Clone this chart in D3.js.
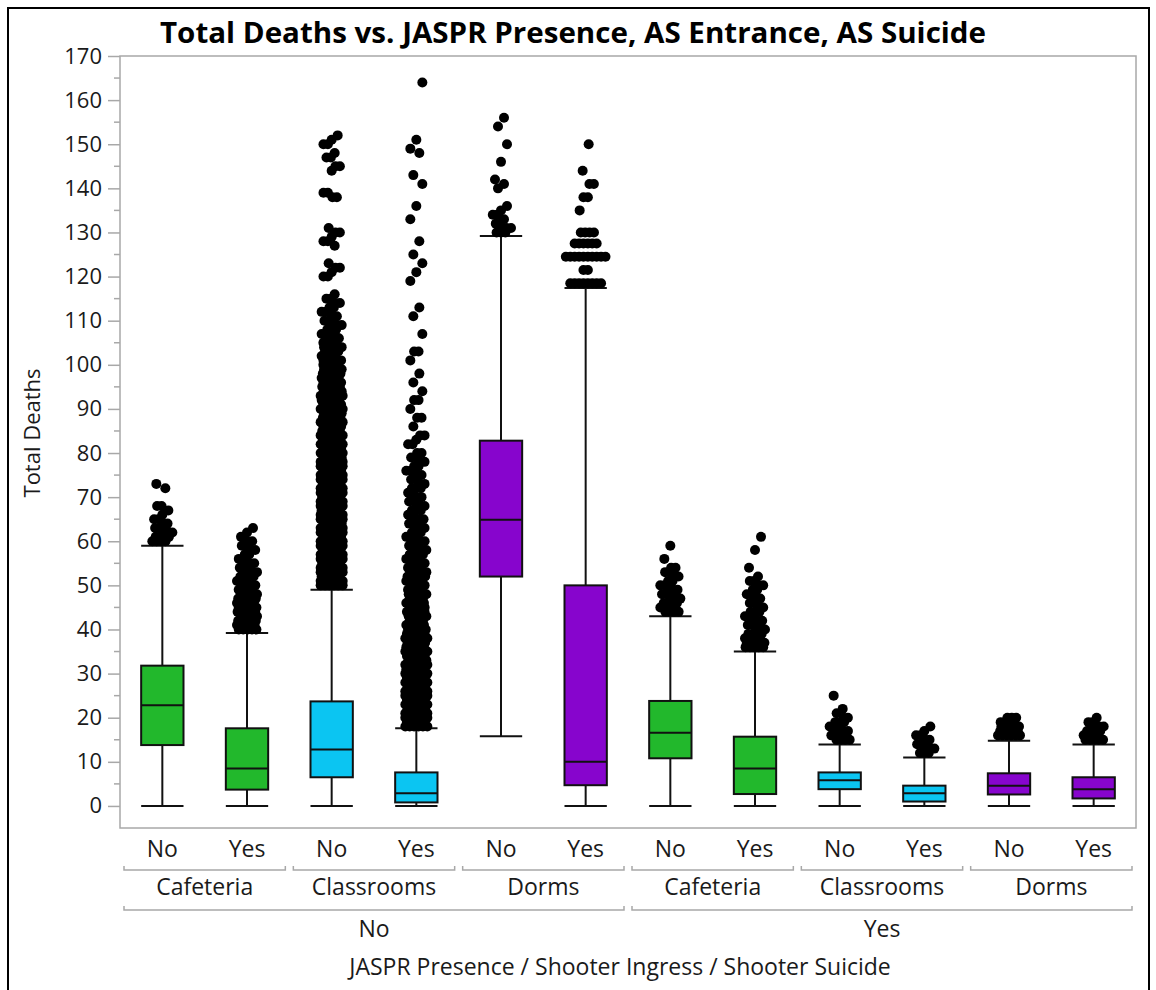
<!DOCTYPE html>
<html>
<head>
<meta charset="utf-8">
<script src="https://cdn.jsdelivr.net/npm/d3@7"></script>
<style>
  body { margin: 0; background: #fff; }
  svg text { font-family: "Open Sans", "Noto Sans", sans-serif; fill: #1a1a1a; }
</style>
</head>
<body>
<div class="chart"></div>
<script>
// factor levels
var jasprLevels = ["No", "Yes"];
var ingressLevels = ["Cafeteria", "Classrooms", "Dorms"];
var suicideLevels = ["No", "Yes"];
var ingressColors = {Cafeteria: "#22b82c", Classrooms: "#0bc5f2", Dorms: "#8705cd"};

// box stats, in group order (JASPR / Ingress / Suicide)
var whiskerLow  = [0, 0, 0, 0, 15.8, 0, 0, 0, 0, 0, 0, 0];
var q1          = [13.8, 3.7, 6.5, 0.8, 52, 4.7, 10.8, 2.7, 3.8, 1, 2.6, 1.7];
var median      = [22.8, 8.5, 12.8, 2.9, 64.9, 10, 16.6, 8.5, 5.8, 2.9, 4.6, 3.8];
var q3          = [31.8, 17.6, 23.7, 7.6, 82.8, 50, 23.8, 15.7, 7.6, 4.6, 7.4, 6.5];
var whiskerHigh = [59, 39.2, 49, 17.6, 129.2, 117.4, 43, 35, 13.9, 11, 14.8, 13.9];

// outliers as [value, count]
var outNoCafNo = [[60,4],[61,4],[62,3],[63,3],[64,2],[65,2],[66,1],[67,1],[68,2],[72,1],[73,1]];
var outNoCafYes = [[40,5],[41,5],[42,5],[43,4],[44,5],[45,5],[46,4],[47,5],[48,4],[49,4],[50,4],[51,3],
  [52,4],[53,3],[54,3],[55,3],[56,2],[57,2],[58,2],[59,2],[60,2],[61,1],[62,1],[63,1]];
var outNoClassNo = [[50,6],[51,6],[52,5],[53,6],[54,6],[55,5],[56,6],[57,6],[58,5],[59,6],[60,6],
  [61,5],[62,6],[63,6],[64,5],[65,6],[66,6],[67,5],[68,6],[69,6],[70,5],[71,6],[72,6],[73,5],
  [74,6],[75,6],[76,5],[77,6],[78,6],[79,5],[80,6],[81,5],[82,6],[83,5],[84,6],[85,5],[86,5],
  [87,6],[88,5],[89,5],[90,6],[91,5],[92,5],[93,6],[94,5],[95,5],[96,5],[97,4],[98,5],[99,5],
  [100,4],[101,5],[102,4],[103,4],[104,5],[105,4],[106,3],[107,4],[108,3],[109,3],[110,3],
  [111,2],[112,3],[113,2],[114,2],[115,2],[116,1],[120,2],[121,1],[122,2],[123,1],[127,1],
  [128,2],[129,1],[130,2],[131,1],[138,2],[139,2],[144,1],[145,2],[147,2],[148,1],[150,2],
  [151,1],[152,1]];
var outNoClassYes = [[18,6],[19,5],[20,6],[21,6],[22,5],[23,6],[24,5],[25,6],[26,6],[27,5],[28,6],
  [29,5],[30,6],[31,5],[32,6],[33,5],[34,5],[35,6],[36,5],[37,5],[38,6],[39,5],[40,5],[41,5],
  [42,4],[43,5],[44,5],[45,4],[46,5],[47,4],[48,5],[49,4],[50,4],[51,4],[52,5],[53,3],[54,4],
  [55,4],[56,3],[57,4],[58,3],[59,3],[60,4],[61,3],[62,3],[63,2],[64,3],[65,3],[66,2],[67,3],
  [68,2],[69,3],[70,2],[71,2],[72,3],[73,2],[74,2],[75,2],[76,3],[77,2],[78,2],[79,2],[80,2],
  [82,2],[83,1],[84,2],[86,1],[88,2],[90,1],[92,2],[94,1],[96,1],[98,1],[101,1],[103,2],
  [107,1],[111,1],[113,1],[119,1],[121,1],[123,1],[125,1],[128,1],[133,1],[136,1],[141,1],
  [143,1],[148,1],[149,1],[151,1],[164,1]];
var outNoDormNo = [[130,3],[131,3],[132,2],[133,1],[134,2],[135,1],[136,1],[140,1],[141,1],
  [142,1],[146,1],[150,1],[154,1],[156,1]];
var outNoDormYes = [[118.5,8],[121.5,2],[124.5,10],[127.5,6],[130,4],[135,1],[138,2],[141,2],
  [144,1],[150,1]];
var outYesCafNo = [[44,4],[45,4],[46,4],[47,3],[48,4],[49,3],[50,3],[51,2],[52,2],[53,2],[54,2],
  [56,1],[59,1]];
var outYesCafYes = [[36,5],[37,5],[38,4],[39,4],[40,3],[41,3],[42,3],[43,3],[44,3],[45,2],[46,2],
  [47,2],[48,2],[49,2],[50,2],[51,2],[52,1],[54,1],[58,1],[61,1]];
var outYesClassNo = [[15,4],[16,4],[17,4],[18,3],[19,3],[20,2],[21,1],[22,1],[25,1]];
var outYesClassYes = [[12,3],[13,3],[14,3],[15,2],[16,2],[17,1],[18,1]];
var outYesDormNo = [[16,6],[17,5],[18,5],[19,4],[20,3]];
var outYesDormYes = [[15,5],[16,4],[17,4],[18,3],[19,2],[20,1]];

var outlierSets = [outNoCafNo, outNoCafYes, outNoClassNo, outNoClassYes, outNoDormNo, outNoDormYes,
  outYesCafNo, outYesCafYes, outYesClassNo, outYesClassYes, outYesDormNo, outYesDormYes];

var yTicks = d3.range(0, 171, 10);

// build groups
var groups = [];
jasprLevels.forEach(function(j){
  ingressLevels.forEach(function(ing){
    suicideLevels.forEach(function(s){
      var i = groups.length;
      groups.push({id: i, jaspr: j, ingress: ing, suicide: s,
        lo: whiskerLow[i], q1: q1[i], med: median[i], q3: q3[i], hi: whiskerHigh[i],
        out: outlierSets[i]});
    });
  });
});

var W = 1156, H = 990;
var svg = d3.select("div.chart").append("svg").attr("width", W).attr("height", H);

// outer border
svg.append("rect").attr("x", 8).attr("y", 8).attr("width", 1141).attr("height", 1000)
  .attr("fill", "none").attr("stroke", "#000").attr("stroke-width", 2);

var plot = {left: 120, right: 1136, top: 56, bottom: 828};

var y = d3.scaleLinear().domain([-5, 170]).range([plot.bottom, plot.top]);
var x = d3.scaleBand().domain(groups.map(function(d){ return d.id; }))
  .range([plot.left, plot.right]).padding(0);
var bw = x.bandwidth();
var boxW = bw * 0.5;

// title
svg.append("text").attr("x", 573).attr("y", 43).attr("text-anchor", "middle")
  .style("font-weight", "bold").style("font-size", "29px").style("fill", "#000")
  .attr("textLength", 826).attr("lengthAdjust", "spacingAndGlyphs")
  .text("Total Deaths vs. JASPR Presence, AS Entrance, AS Suicide");

// frame
svg.append("rect").attr("x", plot.left).attr("y", plot.top)
  .attr("width", plot.right - plot.left).attr("height", plot.bottom - plot.top)
  .attr("fill", "none").attr("stroke", "#a8a8a8").attr("stroke-width", 1.5);

// y axis
var yAxis = d3.axisLeft(y).tickValues(yTicks).tickSize(12).tickPadding(6);
var gy = svg.append("g").attr("transform", "translate(" + plot.left + ",0)").call(yAxis);
gy.select(".domain").remove();
gy.selectAll(".tick line").attr("stroke", "#a8a8a8").attr("stroke-width", 1.5);
gy.selectAll(".tick text").style("font-size", "22px").style("font-family", "Open Sans").attr("fill", "#1a1a1a");
var minor = d3.range(5, 170, 10);
svg.append("g").selectAll("line").data(minor).enter().append("line")
  .attr("x1", plot.left - 6).attr("x2", plot.left)
  .attr("y1", function(d){ return y(d); }).attr("y2", function(d){ return y(d); })
  .attr("stroke", "#a8a8a8").attr("stroke-width", 1.5);

svg.append("text").attr("transform", "translate(40," + (y(85) + 2) + ") rotate(-90)")
  .attr("text-anchor", "middle").style("font-size", "22px").text("Total Deaths");

// whiskers
var gBox = svg.append("g");
gBox.selectAll("line.whisker").data(groups).enter().append("line")
  .attr("class", "whisker")
  .attr("x1", function(d){ return x(d.id) + bw / 2; })
  .attr("x2", function(d){ return x(d.id) + bw / 2; })
  .attr("y1", function(d){ return y(d.lo); })
  .attr("y2", function(d){ return y(d.hi); })
  .attr("stroke", "#111").attr("stroke-width", 2);

["lo", "hi"].forEach(function(k){
  gBox.selectAll("line.cap-" + k).data(groups).enter().append("line")
    .attr("class", "cap-" + k)
    .attr("x1", function(d){ return x(d.id) + bw / 2 - boxW / 2; })
    .attr("x2", function(d){ return x(d.id) + bw / 2 + boxW / 2; })
    .attr("y1", function(d){ return y(d[k]); })
    .attr("y2", function(d){ return y(d[k]); })
    .attr("stroke", "#111").attr("stroke-width", 2);
});

gBox.selectAll("rect.box").data(groups).enter().append("rect")
  .attr("class", "box")
  .attr("x", function(d){ return x(d.id) + bw / 2 - boxW / 2; })
  .attr("y", function(d){ return y(d.q3); })
  .attr("width", boxW)
  .attr("height", function(d){ return y(d.q1) - y(d.q3); })
  .attr("fill", function(d){ return ingressColors[d.ingress]; })
  .attr("stroke", "#111").attr("stroke-width", 2);

gBox.selectAll("line.med").data(groups).enter().append("line")
  .attr("class", "med")
  .attr("x1", function(d){ return x(d.id) + bw / 2 - boxW / 2; })
  .attr("x2", function(d){ return x(d.id) + bw / 2 + boxW / 2; })
  .attr("y1", function(d){ return y(d.med); })
  .attr("y2", function(d){ return y(d.med); })
  .attr("stroke", "#111").attr("stroke-width", 2);

// outlier points: points sharing a value are spread sideways
var spacing = 4.4;
var pts = [];
groups.forEach(function(g){
  var cx = x(g.id) + bw / 2;
  g.out.forEach(function(o, k){
    var v = o[0], n = o[1];
    var half = (n - 1) / 2 * spacing;
    var free = Math.max(0, 10 - half);
    var shift = (((k * 7 + g.id * 3) % 5) - 2) / 2 * Math.min(free, 6);
    for (var i = 0; i < n; i++) {
      pts.push({x: cx - half + i * spacing + shift, v: v});
    }
  });
});
svg.append("g").selectAll("circle").data(pts).enter().append("circle")
  .attr("cx", function(d){ return d.x; })
  .attr("cy", function(d){ return y(d.v); })
  .attr("r", 5)
  .attr("fill", "#000");

// x labels: nested levels
var gx = svg.append("g");
gx.selectAll("text.suicide").data(groups).enter().append("text")
  .attr("x", function(d){ return x(d.id) + bw / 2; })
  .attr("y", 857).attr("text-anchor", "middle").style("font-size", "23px")
  .text(function(d){ return d.suicide; });

function bracket(x0, x1, yy) {
  gx.append("path")
    .attr("d", "M" + (x0 + 4) + "," + (yy - 4) + "V" + yy + "H" + (x1 - 4) + "V" + (yy - 4))
    .attr("fill", "none").attr("stroke", "#a8a8a8").attr("stroke-width", 1.5);
}

var ingressGroups = d3.groups(groups, function(d){ return d.jaspr + "|" + d.ingress; });
ingressGroups.forEach(function(e){
  var arr = e[1];
  var x0 = x(arr[0].id), x1 = x(arr[arr.length - 1].id) + bw;
  bracket(x0, x1, 870);
  gx.append("text").attr("x", (x0 + x1) / 2).attr("y", 895).attr("text-anchor", "middle")
    .style("font-size", "23px").text(arr[0].ingress);
});

var jGroups = d3.groups(groups, function(d){ return d.jaspr; });
jGroups.forEach(function(e){
  var arr = e[1];
  var x0 = x(arr[0].id), x1 = x(arr[arr.length - 1].id) + bw;
  bracket(x0, x1, 910);
  gx.append("text").attr("x", (x0 + x1) / 2).attr("y", 937).attr("text-anchor", "middle")
    .style("font-size", "23px").text(e[0]);
});

svg.append("text").attr("x", (plot.left + plot.right) / 2 - 8).attr("y", 975)
  .attr("text-anchor", "middle").style("font-size", "23px")
  .text("JASPR Presence / Shooter Ingress / Shooter Suicide");
</script>
</body>
</html>
